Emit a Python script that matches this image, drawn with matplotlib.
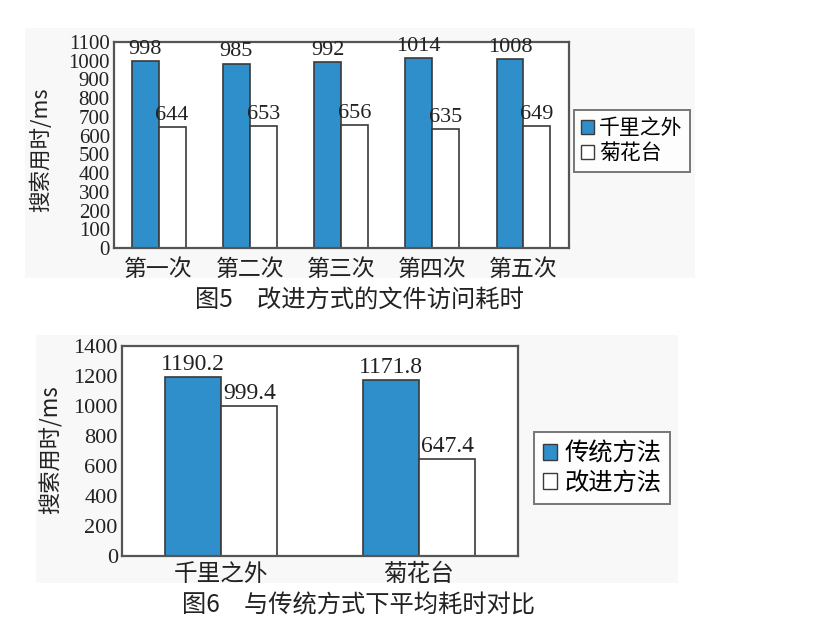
import matplotlib
matplotlib.use("Agg")
import matplotlib.pyplot as plt
import matplotlib.patches as mpatches
import numpy as np

plt.rcParams['font.family'] = ['Liberation Serif', 'Noto Sans CJK SC']

# Chart 1 data
runs = ['第一次', '第二次', '第三次', '第四次', '第五次']
qianli = [998, 985, 992, 1014, 1008]
juhua = [644, 653, 656, 635, 649]
series1_names = ['千里之外', '菊花台']
yticks1 = list(range(0, 1101, 100))

# Chart 2 data
songs = ['千里之外', '菊花台']
traditional = [1190.2, 1171.8]
improved = [999.4, 647.4]
series2_names = ['传统方法', '改进方法']
yticks2 = list(range(0, 1401, 200))

BLUE = '#2f8fcb'
EDGE = '#3a3a3a'
FRAME = '#555555'
TXT = '#222222'
W, H = 840, 639

fig = plt.figure(figsize=(8.4, 6.39), dpi=100)
fig.patch.set_facecolor('white')

# faint background panels
fig.patches.append(mpatches.Rectangle((25 / W, 1 - 278 / H), (695 - 25) / W, (278 - 28) / H,
                                      transform=fig.transFigure, facecolor='#f8f8f8',
                                      edgecolor='none', zorder=-5))
fig.patches.append(mpatches.Rectangle((36 / W, 1 - 583 / H), (678 - 36) / W, (583 - 335) / H,
                                      transform=fig.transFigure, facecolor='#f8f8f8',
                                      edgecolor='none', zorder=-5))


def make_ax(l, t, r, b):
    ax = fig.add_axes([l / W, 1 - b / H, (r - l) / W, (b - t) / H])
    ax.set_zorder(2)
    return ax


def style(ax):
    for s in ax.spines.values():
        s.set_color(FRAME)
        s.set_linewidth(1.6)
    ax.tick_params(length=0, pad=3, colors=TXT)
    ax.set_facecolor('white')


def label_bars(ax, xs, vals, fmt, size):
    for xi, v in zip(xs, vals):
        ax.annotate(fmt(v), (xi, v), xytext=(0, 1.5), textcoords='offset points',
                    ha='center', va='bottom', fontsize=size, color=TXT,
                    family='Liberation Serif', annotation_clip=False)


# ---------- Chart 1 ----------
ax1 = make_ax(114, 42, 569, 248)
x1 = np.arange(len(runs))
bw1 = 0.295
ax1.bar(x1 - bw1 / 2, qianli, bw1, color=BLUE, edgecolor=EDGE, linewidth=1.2)
ax1.bar(x1 + bw1 / 2, juhua, bw1, color='white', edgecolor=EDGE, linewidth=1.2)
label_bars(ax1, x1 - bw1 / 2, qianli, str, 16)
label_bars(ax1, x1 + bw1 / 2, juhua, str, 16)
ax1.set_xlim(-0.49, 4.5)
ax1.set_ylim(0, 1100)
ax1.set_yticks(yticks1)
ax1.set_yticklabels([str(t) for t in yticks1], fontsize=15, family='Liberation Serif')
ax1.set_xticks(x1)
ax1.set_xticklabels(runs, fontsize=16.5, family='Noto Sans CJK SC')
style(ax1)
ax1.tick_params(axis='x', pad=7)
fig.text(41 / W, 1 - 150 / H, '搜索用时/ms', rotation=90, ha='center', va='center',
         fontsize=15.5, family=['Noto Sans CJK SC'], color=TXT)

h1 = [mpatches.Patch(facecolor=BLUE, edgecolor=EDGE), mpatches.Patch(facecolor='white', edgecolor=EDGE)]
leg1 = fig.legend(h1, series1_names, loc='upper left', bbox_to_anchor=(574 / W, 1 - 110 / H),
                  borderaxespad=0, frameon=True, fancybox=False, edgecolor=FRAME,
                  prop={'family': 'Noto Sans CJK SC', 'size': 15},
                  handlelength=0.6, handleheight=0.6, handletextpad=0.25, labelspacing=0.15,
                  borderpad=0.35)
leg1.get_frame().set_linewidth(1.4)

fig.text(359 / W, 1 - 300 / H, '图5\u3000改进方式的文件访问耗时', ha='center', va='center',
         fontsize=17.5, family=['Noto Sans CJK SC'], color=TXT)

# ---------- Chart 2 ----------
ax2 = make_ax(122, 346, 518, 556)
x2 = np.arange(len(songs))
bw2 = 0.285
ax2.bar(x2 - bw2 / 2, traditional, bw2, color=BLUE, edgecolor=EDGE, linewidth=1.2)
ax2.bar(x2 + bw2 / 2, improved, bw2, color='white', edgecolor=EDGE, linewidth=1.2)
label_bars(ax2, x2 - bw2 / 2, traditional, lambda v: f'{v:.1f}', 17)
label_bars(ax2, x2 + bw2 / 2, improved, lambda v: f'{v:.1f}', 17)
ax2.set_xlim(-0.5, 1.5)
ax2.set_ylim(0, 1400)
ax2.set_yticks(yticks2)
ax2.set_yticklabels([str(t) for t in yticks2], fontsize=16, family='Liberation Serif')
ax2.set_xticks(x2)
ax2.set_xticklabels(songs, fontsize=17, family='Noto Sans CJK SC')
style(ax2)
ax2.tick_params(axis='x', pad=5)
fig.text(51 / W, 1 - 450 / H, '搜索用时/ms', rotation=90, ha='center', va='center',
         fontsize=16, family=['Noto Sans CJK SC'], color=TXT)

h2 = [mpatches.Patch(facecolor=BLUE, edgecolor=EDGE), mpatches.Patch(facecolor='white', edgecolor=EDGE)]
leg2 = fig.legend(h2, series2_names, loc='upper left', bbox_to_anchor=(534 / W, 1 - 432 / H),
                  borderaxespad=0, frameon=True, fancybox=False, edgecolor=FRAME,
                  prop={'family': 'Noto Sans CJK SC', 'size': 17.5},
                  handlelength=0.6, handleheight=0.6, handletextpad=0.3, labelspacing=0.12,
                  borderpad=0.35)
leg2.get_frame().set_linewidth(1.4)

fig.text(358 / W, 1 - 606 / H, '图6\u3000与传统方式下平均耗时对比', ha='center', va='center',
         fontsize=17.5, family=['Noto Sans CJK SC'], color=TXT)

fig.savefig('out.png', dpi=100, facecolor='white')
